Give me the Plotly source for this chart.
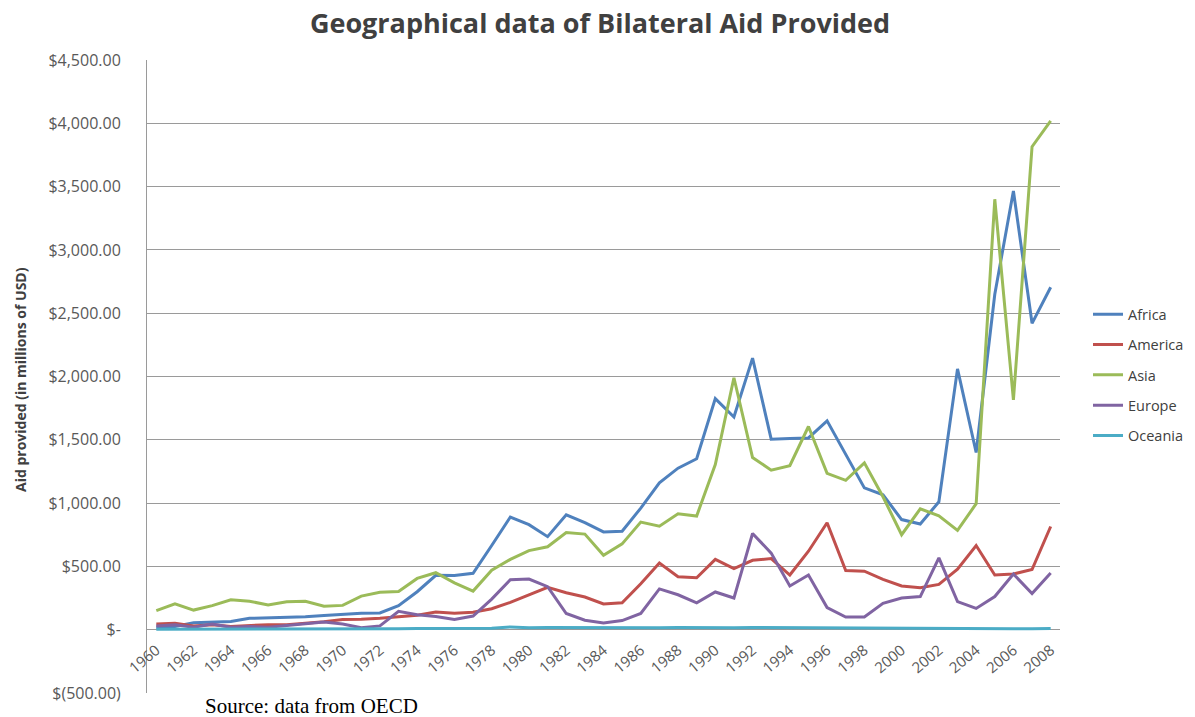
import plotly.graph_objects as go

years = list(range(1960, 2009))

africa = [20, 25, 55, 60, 65, 90, 92, 98, 102, 112, 122, 130, 132, 190, 300, 430, 428, 445,
          665, 890, 830, 735, 908, 845, 772, 778, 960, 1160, 1276, 1350, 1825, 1680, 2145,
          1505, 1510, 1515, 1650, 1385, 1120, 1065, 870, 835, 1010, 2060, 1400, 2650, 3465,
          2420, 2705]
america = [45, 50, 30, 40, 25, 35, 40, 40, 50, 62, 80, 82, 90, 105, 115, 140, 130, 138,
           166, 216, 276, 335, 292, 258, 203, 212, 363, 526, 418, 410, 556, 482, 548, 562,
           432, 620, 845, 468, 462, 398, 345, 332, 358, 478, 665, 432, 440, 475, 815]
asia = [150, 205, 155, 190, 237, 225, 195, 220, 225, 185, 192, 265, 295, 302, 405, 450, 370,
        305, 470, 555, 625, 655, 768, 755, 588, 678, 850, 818, 916, 898, 1305, 1990, 1360,
        1260, 1295, 1605, 1235, 1180, 1318, 1050, 750, 955, 900, 785, 995, 3400, 1815, 3815,
        4020]
europe = [30, 40, 20, 45, 20, 25, 20, 35, 45, 60, 45, 15, 30, 145, 118, 105, 80, 108, 242,
          395, 400, 340, 128, 75, 53, 72, 128, 322, 276, 212, 298, 250, 760, 605, 345, 432,
          175, 100, 100, 208, 250, 262, 568, 222, 168, 262, 440, 285, 448]
oceania = [3, 3, 4, 4, 4, 5, 5, 5, 6, 6, 6, 7, 7, 8, 9, 10, 10, 10, 12, 22, 16, 18, 17, 15,
           16, 14, 15, 16, 17, 15, 17, 16, 18, 17, 16, 15, 12, 11, 10, 10, 10, 9, 9, 8, 8, 8,
           7, 7, 9]

series_names = ["Africa", "America", "Asia", "Europe", "Oceania"]
series_values = [africa, america, asia, europe, oceania]
colors = ["#4F81BD", "#C0504D", "#9BBB59", "#8064A2", "#4BACC6"]

y_ticks = [-500, 0, 500, 1000, 1500, 2000, 2500, 3000, 3500, 4000, 4500]
y_ticktext = ["$(500.00)", "$-", "$500.00", "$1,000.00", "$1,500.00", "$2,000.00",
              "$2,500.00", "$3,000.00", "$3,500.00", "$4,000.00", "$4,500.00"]
x_ticks = list(range(1960, 2009, 2))

fig = go.Figure()
for name, vals, col in zip(series_names, series_values, colors):
    fig.add_trace(go.Scatter(x=years, y=vals, mode="lines", name=name,
                             legendgroup=name,
                             line=dict(color=col, width=3)))

# page body has an 8px margin; figure is offset to compensate
OFF = 8
W, H = 1230, 717 - OFF
PLOT_R = 1060
ml, mr, mt, mb = 147 - OFF, W + OFF - PLOT_R, 60 - OFF, 24
PW, PH = W - ml - mr, H - mt - mb

fig.update_layout(
    width=W, height=H,
    margin=dict(l=ml, r=mr, t=mt, b=mb),
    paper_bgcolor="white", plot_bgcolor="white",
    title=dict(text="<b>Geographical data of Bilateral Aid Provided</b>",
               x=(600 - OFF) / W, xanchor="center", y=1 - (24 - OFF) / H, yanchor="middle",
               font=dict(family="Open Sans", size=27, color="#404040")),
    font=dict(family="Open Sans", color="#595959"),
    xaxis=dict(range=[1959.5, 2008.5], tickvals=x_ticks, tickangle=-40,
               showgrid=False, zeroline=False, showline=False,
               anchor="free", position=0.1,
               tickfont=dict(family="Open Sans", size=15, color="#595959"),
               ticks="", ticklabelstandoff=8),
    yaxis=dict(range=[-500, 4500], tickvals=y_ticks, ticktext=y_ticktext,
               showgrid=True, gridcolor="#9a9a9a", gridwidth=1,
               zeroline=False, showline=True, linecolor="#9a9a9a", linewidth=1,
               tickfont=dict(family="Open Sans", size=16, color="#595959"),
               ticks="", ticklabelstandoff=22),
    legend=dict(x=1 + (1088 - PLOT_R) / PW, y=0.502, xanchor="left", yanchor="middle",
                font=dict(family="Open Sans", size=14.5, color="#404040"),
                tracegroupgap=8.5, bgcolor="rgba(0,0,0,0)"),
    showlegend=True,
)

fig.add_annotation(text="<b>Aid provided (in millions of USD)</b>", textangle=-90,
                   xref="paper", yref="paper", x=(20 - OFF - ml) / PW, y=(693 - 380) / PH,
                   xanchor="center", yanchor="middle", showarrow=False,
                   font=dict(family="Open Sans", size=14, color="#404040"))
fig.add_annotation(text="Source: data from OECD", xref="paper", yref="paper",
                   x=(203 - OFF - ml) / PW, y=(693 - 706) / PH,
                   xanchor="left", yanchor="middle", showarrow=False,
                   font=dict(family="Liberation Serif", size=21, color="#000000"))

fig.write_html("out.html")
